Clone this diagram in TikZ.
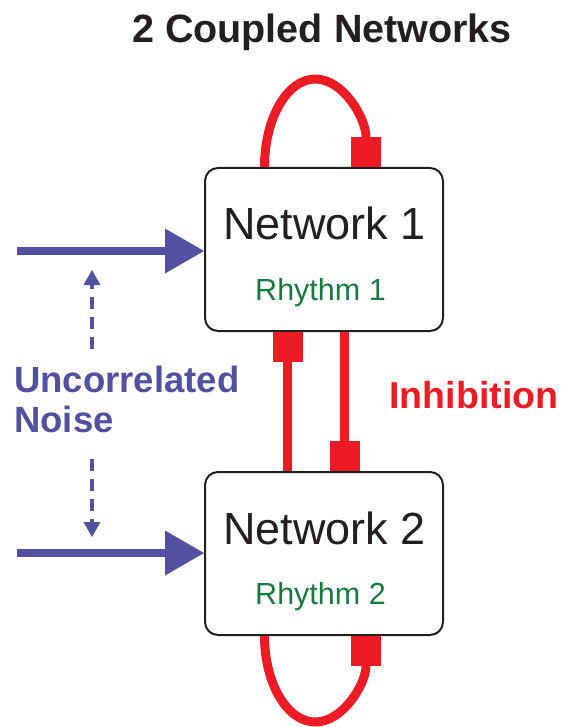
\documentclass[tikz,border=0pt]{standalone}
\usepackage{fontspec}
\setmainfont{Liberation Sans}
\usetikzlibrary{arrows.meta}

\definecolor{inhibred}{RGB}{237,28,36}
\definecolor{noiseblue}{RGB}{81,80,161}
\definecolor{rhythmgreen}{RGB}{24,121,61}
\definecolor{boxgray}{RGB}{35,31,32}

\begin{document}
\begin{tikzpicture}[x=1pt, y=-1pt,
    netbox/.style={draw=boxgray, line width=2pt, rounded corners=13pt, minimum width=238pt, minimum height=163pt},
    netname/.style={anchor=base, text=boxgray, font=\fontsize{45}{54}\selectfont},
    rhythm/.style={anchor=base, text=rhythmgreen, font=\fontsize{30.5}{36}\selectfont},
    inhib/.style={draw=inhibred, line width=9pt, -{Square[length=30pt, width=30pt, line width=0pt]}},
    input/.style={draw=noiseblue, line width=7.5pt, -{Triangle[length=39pt, width=45pt, line width=0pt]}},
    noisedash/.style={draw=noiseblue, line width=3.5pt, dash pattern=on 12pt off 8pt, -{Triangle[length=15pt, width=17pt, line width=0pt]}}
  ]
  \useasboundingbox (0,0) rectangle (562,727);

  % Title
  \node[anchor=base, text=boxgray, font=\fontsize{39.5}{48}\selectfont\bfseries] (title) at (322,43) {2 Coupled Networks};

  % The two networks with their rhythms
  \node[netbox] (net1) at (324,249.5) {};
  \node[netbox] (net2) at (324,553.5) {};
  \node[netname] (net1name) at (324.5,240) {Network 1};
  \node[netname] (net2name) at (324.5,544) {Network 2};
  \node[rhythm] (rhythm1) at (320.5,300) {Rhythm 1};
  \node[rhythm] (rhythm2) at (320.5,604) {Rhythm 2};

  % Noise inputs
  \coordinate (in1) at (17,251);
  \coordinate (in2) at (17,553);
  \draw[input] (in1) -- (in1 -| net1.west);
  \draw[input] (in2) -- (in2 -| net2.west);

  % Noise label with dashed arrows
  \node[anchor=base west, align=left, inner sep=0pt, text=noiseblue, font=\fontsize{36.5}{40}\selectfont\bfseries] (noise) at (14,432) {Uncorrelated\\Noise};
  \coordinate (noisetop) at (92,270);
  \coordinate (noisebot) at (92,537);
  \draw[noisedash] ([yshift=16.5pt]noise.north -| noisetop) -- (noisetop);
  \draw[noisedash] ([yshift=-26pt]noise.south -| noisebot) -- (noisebot);

  % Self inhibition loops
  \draw[inhib] ([xshift=60.5pt]net1.north west) arc[start angle=180, end angle=360, x radius=50.75, y radius=88];
  \draw[inhib] ([xshift=60.5pt]net2.south west) arc[start angle=180, end angle=0, x radius=50.75, y radius=86];

  % Mutual inhibition
  \draw[inhib] ([xshift=83.5pt]net2.north west) -- ([xshift=83.5pt]net1.south west);
  \draw[inhib] ([xshift=140.5pt]net1.south west) -- ([xshift=140.5pt]net2.north west);
  \node[anchor=base west, text=inhibred, font=\fontsize{37.5}{44}\selectfont\bfseries] (inhlabel) at (386,408) {Inhibition};
\end{tikzpicture}
\end{document}
